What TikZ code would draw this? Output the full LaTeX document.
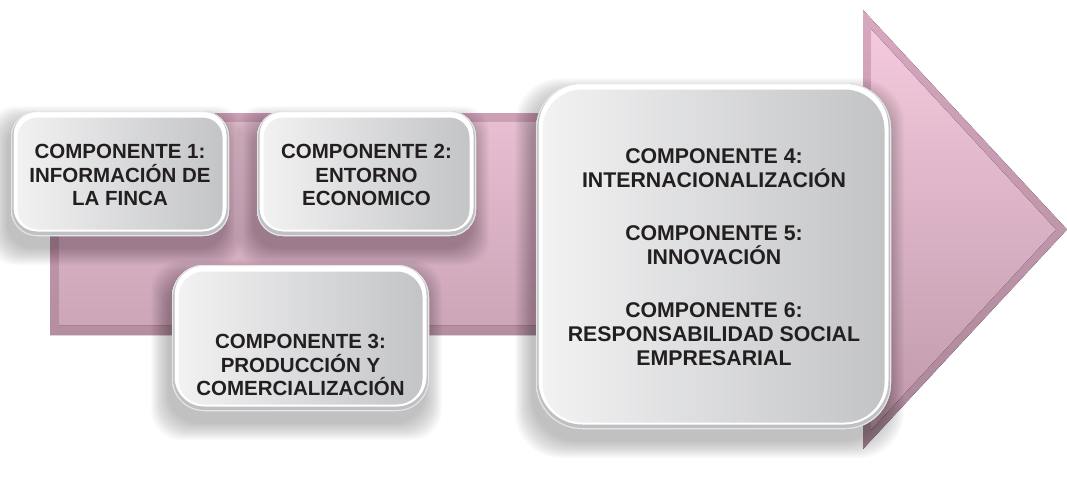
\documentclass[tikz,border=0pt]{standalone}
\usepackage{fontspec}
\setmainfont{Liberation Sans}
\definecolor{txtc}{HTML}{231F20}
\definecolor{boxL}{HTML}{F3F3F4}
\definecolor{boxR}{HTML}{C2C3C5}
\definecolor{boxEdge}{HTML}{BFC0C3}
\definecolor{arrOutT}{HTML}{D8A8BF}
\definecolor{arrOutB}{HTML}{A88497}
\definecolor{arrInT}{HTML}{F4C9DD}
\definecolor{arrInB}{HTML}{BF99AB}
\newcommand\boxshadow[5]{%
  \foreach \k in {1,...,18}{%
    \fill[black,fill opacity=0.016,rounded corners=#5]
      (#1-\k-4,#2-\k+12) rectangle (#3+\k-4,#4+\k+12);
  }}
\tikzset{
  compbox/.style={rounded corners=#1, left color=boxL, right color=boxR,
    path picture={
      \draw[white, line width=13pt, rounded corners=#1]
        (path picture bounding box.south west) rectangle (path picture bounding box.north east);
      \draw[boxEdge, line width=5pt, rounded corners=#1]
        ([yshift=2pt]path picture bounding box.south west) rectangle ([yshift=2pt]path picture bounding box.north east);
      \draw[boxEdge!40, line width=2pt, rounded corners=#1]
        (path picture bounding box.south west) rectangle (path picture bounding box.north east);
    }},
  comptext/.style={font=\fontsize{20.5}{23.5}\selectfont\bfseries, text=txtc, align=center},
}
\begin{document}
\begin{tikzpicture}[x=1pt,y=-1pt]
\useasboundingbox (0,0) rectangle (1067,487);
% arrow
\fill[top color=arrOutT, bottom color=arrOutB]
  (50,113) -- (863,113) -- (863,10) -- (1067,229.5) -- (863,449) -- (863,335) -- (50,335) -- cycle;
\fill[top color=arrInT, bottom color=arrInB]
  (59,122) -- (871,122) -- (871,29) -- (1056,229.5) -- (871,430) -- (871,325) -- (59,325) -- cycle;
% box 1 and 2
\boxshadow{12}{112}{228}{235}{25}
\boxshadow{258}{112}{475}{235}{25}
\node[compbox=26pt, minimum width=218pt, minimum height=125pt] (c1) at (120,173.5) {};
\node[compbox=26pt, minimum width=219pt, minimum height=125pt] (c2) at (366.5,173.5) {};
\node[comptext] (t1) at (120,175) {COMPONENTE 1:\\INFORMACIÓN DE\\LA FINCA};
\node[comptext] (t2) at (366.5,175) {COMPONENTE 2:\\ENTORNO\\ECONOMICO};
% box 3
\boxshadow{173}{266}{428}{410}{30}
\node[compbox=32pt, minimum width=257pt, minimum height=146pt] (c3) at (300.5,338) {};
\node[comptext] (t3) at (300.5,365) {COMPONENTE 3:\\PRODUCCIÓN Y\\COMERCIALIZACIÓN};
% box 4
\boxshadow{537}{84}{890}{428}{45}
\node[compbox=46pt, minimum width=355pt, minimum height=346pt] (c4) at (713.5,256) {};
\node[comptext, font=\fontsize{21.3}{24}\selectfont\bfseries] (t4) at (714,257)
  {COMPONENTE 4:\\INTERNACIONALIZACIÓN\\[29pt]COMPONENTE 5:\\INNOVACIÓN\\[29pt]COMPONENTE 6:\\RESPONSABILIDAD SOCIAL\\EMPRESARIAL};
\end{tikzpicture}
\end{document}
